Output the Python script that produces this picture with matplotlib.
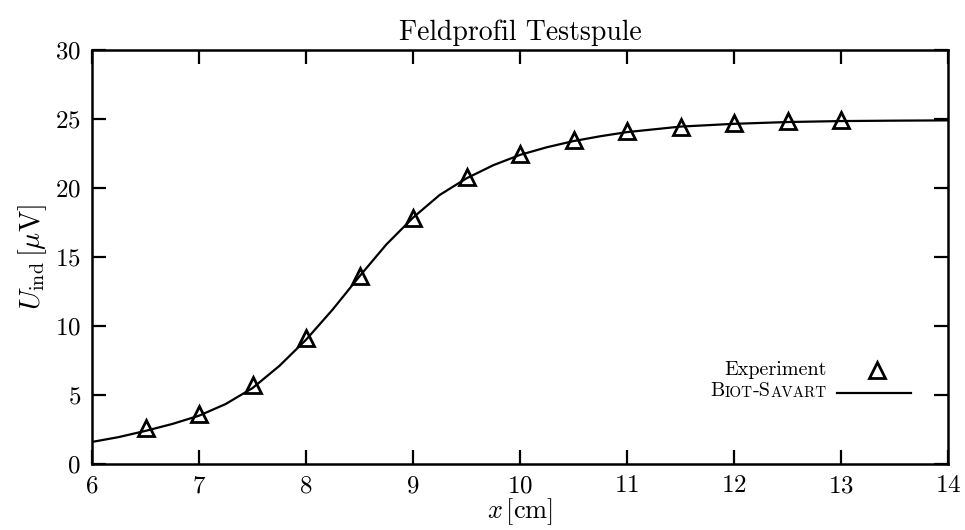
import matplotlib
matplotlib.use("Agg")
import matplotlib.pyplot as plt

# ---- data ----
x_exp = [6.5, 7.0, 7.5, 8.0, 8.5, 9.0, 9.5, 10.0, 10.5, 11.0, 11.5, 12.0, 12.5, 13.0]
u_exp = [2.6, 3.6, 5.7, 9.1, 13.6, 17.85, 20.8, 22.5, 23.5, 24.1, 24.45, 24.7, 24.85, 24.9]

x_bs = [6.0, 6.25, 6.5, 6.75, 7.0, 7.25, 7.5, 7.75, 8.0, 8.25, 8.5, 8.75, 9.0,
        9.25, 9.5, 9.75, 10.0, 10.25, 10.5, 10.75, 11.0, 11.25, 11.5, 11.75,
        12.0, 12.5, 13.0, 13.5, 14.0]
u_bs = [1.6, 1.95, 2.4, 2.9, 3.5, 4.35, 5.5, 7.1, 9.0, 11.2, 13.6, 15.9, 17.85,
        19.5, 20.7, 21.65, 22.4, 22.95, 23.4, 23.75, 24.05, 24.25, 24.45, 24.55,
        24.65, 24.78, 24.85, 24.88, 24.9]

x_ticks = [6, 7, 8, 9, 10, 11, 12, 13, 14]
y_ticks = [0, 5, 10, 15, 20, 25, 30]

title = "Feldprofil Testspule"
label_exp = "Experiment"
label_bs_pieces = [("B", 1.0), ("IOT", 0.75), ("-S", 1.0), ("AVART", 0.75)]

plt.rcParams['font.family'] = ['cmr10', 'DejaVu Serif']
plt.rcParams['mathtext.fontset'] = 'cm'
plt.rcParams['axes.formatter.use_mathtext'] = True

fig = plt.figure(figsize=(9.65, 5.30), dpi=100)
ax = fig.add_axes([92/965, 1-464/530, (948-92)/965, (464-50)/530])

ax.plot(x_bs, u_bs, color='black', lw=1.6, zorder=2)
ax.plot(x_exp, u_exp, linestyle='none', marker='^', ms=11, mfc='none',
        mec='black', mew=2.0, zorder=3)

ax.set_xlim(6, 14)
ax.set_ylim(0, 30)
ax.set_xticks(x_ticks)
ax.set_yticks(y_ticks)
ax.tick_params(direction='in', length=10, width=1.6, top=True, right=True,
               labelsize=18)
ax.tick_params(axis='x', pad=8)
ax.tick_params(axis='y', pad=8)
for s in ax.spines.values():
    s.set_linewidth(1.8)

ax.set_title(title, fontsize=20, pad=7)
ax.set_xlabel(r"$x\,[\mathrm{cm}]$", fontsize=19, labelpad=-0.5)
ax.set_ylabel(r"$U_\mathrm{ind}\,[\mu\mathrm{V}]$", fontsize=20.5, labelpad=4)

# ---- manual legend (gnuplot style) ----
leg_fs = 14.5
tx = (827-92)/856
y1 = (464-370)/414
y2 = (464-390)/414
ax.text(tx, y1, label_exp, transform=ax.transAxes, ha='right', va='center',
        fontsize=leg_fs)
ax.plot([(877-92)/856], [y1], transform=ax.transAxes, linestyle='none',
        marker='^', ms=11, mfc='none', mec='black', mew=2.0, clip_on=False)
ax.plot([(837-92)/856, (911-92)/856], [(464-393)/414]*2, transform=ax.transAxes,
        color='black', lw=1.6, clip_on=False)

txt, scale = label_bs_pieces[-1]
prev = ax.text(tx, y2 - 0.025, txt, transform=ax.transAxes, ha='right',
               va='bottom', fontsize=leg_fs*scale)
for txt, scale in reversed(label_bs_pieces[:-1]):
    prev = ax.annotate(txt, xy=(0, 0), xycoords=prev, ha='right', va='bottom',
                       fontsize=leg_fs*scale)

fig.savefig("out.png", dpi=100)
